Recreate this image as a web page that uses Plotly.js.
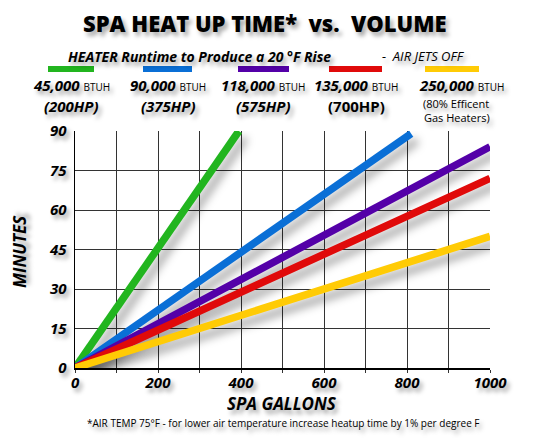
<!DOCTYPE html>
<html>
<head>
<meta charset="utf-8">
<script src="https://cdn.plot.ly/plotly-3.0.1.min.js"></script>
<style>
html,body{margin:0;padding:0;background:#fff;}
#chart{width:545px;height:448px;}
.scatterlayer path.js-line{filter:drop-shadow(6px 7px 4px rgba(0,0,0,0.33));}
</style>
</head>
<body>
<div id="chart"></div>
<script>
// ---- data ----
const seriesNames = ["45,000 BTUH (200HP)", "90,000 BTUH (375HP)", "118,000 BTUH (575HP)", "135,000 BTUH (700HP)", "250,000 BTUH (80% Efficent Gas Heaters)"];
const btuh = ["45,000", "90,000", "118,000", "135,000", "250,000"];
const hpLabels = ["(200HP)", "(375HP)", "(575HP)", "(700HP)", ""];
const gallons45 = [0, 395];
const minutes45 = [0, 90];
const gallons90 = [0, 810];
const minutes90 = [0, 89];
const gallons118 = [0, 1000];
const minutes118 = [0, 84];
const gallons135 = [0, 1000];
const minutes135 = [0, 72];
const gallons250 = [0, 1000];
const minutes250 = [0, 50];
const xTicks = [0, 200, 400, 600, 800, 1000];
const yTicks = [0, 15, 30, 45, 60, 75, 90];
const xTitle = "SPA GALLONS";
const yTitle = "MINUTES";

const colors = ["#22b51f", "#0a6fd6", "#5400a8", "#e00a0a", "#ffcb05"];
const xs = [gallons45, gallons90, gallons118, gallons135, gallons250];
const ys = [minutes45, minutes90, minutes118, minutes135, minutes250];

const W = 545, H = 448;
const L = 75, R = 55, T = 131, B = 80;
const pw = W - L - R, ph = H - T - B;
const px = x => (x - L) / pw;
const py = y => (H - B - y) / ph;

const FONT = "Open Sans, DejaVu Sans, sans-serif";
const shadow = "3px 4px 4px rgba(0,0,0,0.35)";

const traces = xs.map((x, i) => ({
  type: "scatter", mode: "lines", name: seriesNames[i],
  x: x, y: ys[i], cliponaxis: false,
  line: {color: colors[i], width: 7.5},
  showlegend: false, hoverinfo: "skip"
}));

// legend samples (bars) and texts
const barX = [[48, 94], [143, 192], [238, 289], [329, 382], [425, 479]];
const centers = [71, 168, 263, 356, 461];
const shapes = barX.map((b, i) => ({
  type: "rect", xref: "paper", yref: "paper",
  x0: px(b[0]), x1: px(b[1]), y0: py(72), y1: py(66),
  fillcolor: colors[i], line: {width: 0}
}));

const annotations = [];
annotations.push({
  xref: "paper", yref: "paper", x: px(265), y: py(23), xanchor: "center", yanchor: "middle",
  text: "SPA HEAT UP TIME*  vs.  VOLUME", showarrow: false,
  font: {family: FONT, size: 22, weight: 800, color: "#000", shadow: shadow}
});
annotations.push({
  xref: "paper", yref: "paper", x: px(66), y: py(56), xanchor: "left", yanchor: "middle",
  text: "HEATER Runtime to Produce a 20 °F Rise", showarrow: false,
  font: {family: FONT, size: 14, weight: 700, style: "italic", color: "#000", shadow: shadow}
});
annotations.push({
  xref: "paper", yref: "paper", x: px(380), y: py(56), xanchor: "left", yanchor: "middle",
  text: "-  AIR JETS OFF", showarrow: false,
  font: {family: FONT, size: 13, style: "italic", color: "#000", shadow: shadow}
});
btuh.forEach((b, i) => {
  annotations.push({
    xref: "paper", yref: "paper", x: px(centers[i]), y: py(85), xanchor: "center", yanchor: "middle",
    text: "<b><i>" + b + "</i></b> <span style='font-size:10px'>BTUH</span>", showarrow: false,
    font: {family: FONT, size: 15, color: "#000", shadow: shadow}
  });
  if (hpLabels[i]) {
    annotations.push({
      xref: "paper", yref: "paper", x: px(centers[i]), y: py(106), xanchor: "center", yanchor: "middle",
      text: hpLabels[i], showarrow: false,
      font: {family: FONT, size: 15, weight: 700, style: i === 3 ? "normal" : "italic", color: "#000", shadow: shadow}
    });
  }
});
annotations.push({
  xref: "paper", yref: "paper", x: px(421), y: py(103), xanchor: "left", yanchor: "middle",
  text: "(80% Efficent", showarrow: false,
  font: {family: FONT, size: 11, color: "#000", shadow: shadow}
});
annotations.push({
  xref: "paper", yref: "paper", x: px(422), y: py(117), xanchor: "left", yanchor: "middle",
  text: "Gas Heaters)", showarrow: false,
  font: {family: FONT, size: 11, color: "#000", shadow: shadow}
});
annotations.push({
  xref: "paper", yref: "paper", x: px(282), y: py(403), xanchor: "center", yanchor: "middle",
  text: xTitle, showarrow: false,
  font: {family: FONT, size: 17, weight: 700, style: "italic", color: "#000", shadow: shadow}
});
annotations.push({
  xref: "paper", yref: "paper", x: px(19), y: py(252), xanchor: "center", yanchor: "middle",
  text: yTitle, showarrow: false, textangle: -90,
  font: {family: FONT, size: 17, weight: 700, style: "italic", color: "#000", shadow: shadow}
});
annotations.push({
  xref: "paper", yref: "paper", x: px(283), y: py(423), xanchor: "center", yanchor: "middle",
  text: "*AIR TEMP 75°F - for lower air temperature increase heatup time by 1% per degree F", showarrow: false,
  font: {family: FONT, size: 10, color: "#000", shadow: shadow}
});

const tickFont = {family: FONT, size: 15, weight: 700, style: "italic", color: "#000", shadow: shadow};

const layout = {
  width: W, height: H,
  margin: {l: L, r: R, t: T, b: B, pad: 0},
  paper_bgcolor: "#fff", plot_bgcolor: "#fff",
  showlegend: false,
  xaxis: {
    range: [0, 1000], tickvals: xTicks, ticktext: xTicks.map(String),
    showgrid: true, gridcolor: "#333", gridwidth: 1,
    ticks: "", ticklen: 0,
    minor: {dtick: 100, tick0: 0, showgrid: true, gridcolor: "#333", gridwidth: 1, ticks: "outside", ticklen: 3, tickcolor: "#333"},
    showline: true, linecolor: "#000", linewidth: 1.5, zeroline: false,
    tickfont: tickFont, fixedrange: true
  },
  yaxis: {
    range: [0, 90], tickvals: yTicks, ticktext: yTicks.map(String),
    showgrid: true, gridcolor: "#333", gridwidth: 1,
    ticks: "", ticklen: 0, ticklabelstandoff: 4,
    showline: true, linecolor: "#000", linewidth: 1.5, zeroline: false,
    tickfont: tickFont, fixedrange: true
  },
  shapes: shapes,
  annotations: annotations
};

Plotly.newPlot("chart", traces, layout, {displayModeBar: false, staticPlot: true});
</script>
</body>
</html>
